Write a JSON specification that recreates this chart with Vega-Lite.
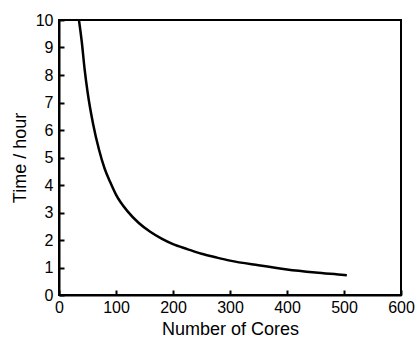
{
  "$schema": "https://vega.github.io/schema/vega-lite/v6.json",
  "width": 342,
  "height": 275,
  "autosize": {"type": "none"},
  "padding": {"left": 59, "top": 20, "right": 16, "bottom": 46},
  "background": "white",
  "config": {
    "font": "Liberation Sans",
    "view": {"stroke": "black", "strokeWidth": 2},
    "axis": {
      "grid": false,
      "domainColor": "black",
      "domainWidth": 2,
      "tickColor": "black",
      "tickWidth": 2,
      "tickSize": -5,
      "labelColor": "black",
      "labelFont": "Liberation Sans",
      "labelFontSize": 16,
      "titleFont": "Liberation Sans",
      "titleFontSize": 18,
      "titleFontWeight": "normal",
      "titleColor": "black",
      "labelFlush": false,
      "labelOverlap": false
    }
  },
  "data": {
    "values": [
      {"cores": 35, "time": 10.0},
      {"cores": 40, "time": 9.2},
      {"cores": 45, "time": 8.2},
      {"cores": 50, "time": 7.4},
      {"cores": 60, "time": 6.2},
      {"cores": 70, "time": 5.3},
      {"cores": 80, "time": 4.6},
      {"cores": 90, "time": 4.1},
      {"cores": 100, "time": 3.65},
      {"cores": 120, "time": 3.05},
      {"cores": 140, "time": 2.62},
      {"cores": 160, "time": 2.3},
      {"cores": 180, "time": 2.05},
      {"cores": 200, "time": 1.85},
      {"cores": 225, "time": 1.67},
      {"cores": 250, "time": 1.5},
      {"cores": 275, "time": 1.37},
      {"cores": 300, "time": 1.25},
      {"cores": 350, "time": 1.08},
      {"cores": 400, "time": 0.93},
      {"cores": 450, "time": 0.82},
      {"cores": 500, "time": 0.73},
      {"cores": 505, "time": 0.72}
    ]
  },
  "mark": {"type": "line", "color": "black", "strokeWidth": 2.5, "clip": true, "interpolate": "monotone"},
  "encoding": {
    "x": {
      "field": "cores",
      "type": "quantitative",
      "scale": {"domain": [0, 600], "nice": false},
      "axis": {"values": [0, 100, 200, 300, 400, 500, 600], "title": "Number of Cores", "labelPadding": 9, "titlePadding": 5}
    },
    "y": {
      "field": "time",
      "type": "quantitative",
      "scale": {"domain": [0, 10], "nice": false},
      "axis": {"values": [0, 1, 2, 3, 4, 5, 6, 7, 8, 9, 10], "title": "Time / hour", "labelPadding": 11, "titlePadding": 6}
    }
  }
}
